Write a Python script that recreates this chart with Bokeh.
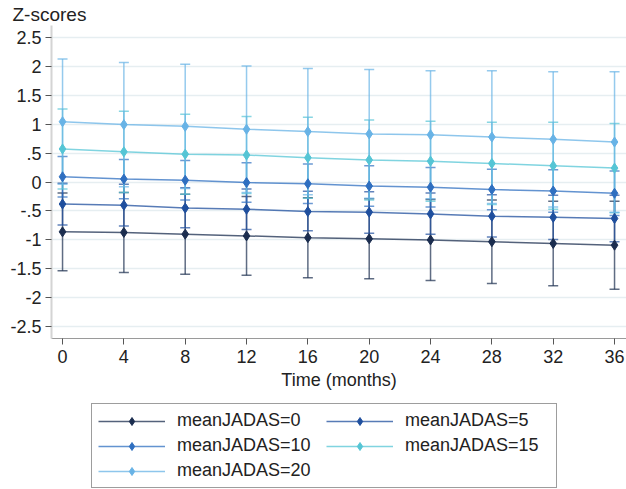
from bokeh.plotting import figure
from bokeh.layouts import column
from bokeh.models import (ColumnDataSource, Whisker, TeeHead, Legend, LegendItem,
                          FixedTicker, Range1d, CustomJSTickFormatter)
from bokeh.embed import file_html
from bokeh.resources import INLINE

months = [0, 4, 8, 12, 16, 20, 24, 28, 32, 36]
groups = ["meanJADAS=0", "meanJADAS=5", "meanJADAS=10", "meanJADAS=15", "meanJADAS=20"]

mean_0 = [-0.86, -0.87, -0.90, -0.93, -0.96, -0.98, -1.00, -1.03, -1.06, -1.09]
lower_0 = [-1.53, -1.56, -1.59, -1.61, -1.65, -1.67, -1.70, -1.75, -1.79, -1.85]
upper_0 = [-0.19, -0.18, -0.21, -0.25, -0.27, -0.29, -0.30, -0.31, -0.33, -0.33]

mean_5 = [-0.38, -0.40, -0.45, -0.47, -0.51, -0.52, -0.55, -0.59, -0.61, -0.63]
lower_5 = [-0.74, -0.76, -0.79, -0.82, -0.84, -0.885, -0.90, -0.95, -0.99, -1.03]
upper_5 = [-0.02, -0.04, -0.10, -0.12, -0.16, -0.17, -0.19, -0.22, -0.23, -0.23]

mean_10 = [0.09, 0.05, 0.03, -0.01, -0.03, -0.07, -0.09, -0.13, -0.155, -0.195]
lower_10 = [-0.26, -0.29, -0.31, -0.35, -0.37, -0.42, -0.43, -0.48, -0.52, -0.58]
upper_10 = [0.44, 0.39, 0.37, 0.33, 0.31, 0.28, 0.25, 0.22, 0.21, 0.19]

mean_15 = [0.57, 0.52, 0.48, 0.465, 0.42, 0.38, 0.36, 0.32, 0.28, 0.24]
lower_15 = [-0.12, -0.18, -0.21, -0.20, -0.28, -0.31, -0.33, -0.39, -0.47, -0.53]
upper_15 = [1.26, 1.22, 1.17, 1.13, 1.115, 1.07, 1.05, 1.03, 1.03, 1.01]

mean_20 = [1.04, 0.99, 0.96, 0.91, 0.87, 0.83, 0.815, 0.776, 0.736, 0.69]
lower_20 = [-0.04, -0.08, -0.11, -0.18, -0.22, -0.28, -0.29, -0.37, -0.43, -0.52]
upper_20 = [2.12, 2.06, 2.03, 2.00, 1.96, 1.94, 1.92, 1.92, 1.90, 1.90]

y_ticks = [2.5, 2, 1.5, 1, 0.5, 0, -0.5, -1, -1.5, -2, -2.5]

means = [mean_0, mean_5, mean_10, mean_15, mean_20]
lowers = [lower_0, lower_5, lower_10, lower_15, lower_20]
uppers = [upper_0, upper_5, upper_10, upper_15, upper_20]
colors = ["#1b2d4f", "#1f4f9e", "#2f6fc0", "#55c5d5", "#68b3e6"]

FONT = "Liberation Sans"

p = figure(width=626, height=395, output_backend="svg", toolbar_location=None,
           x_range=Range1d(-0.72, 36.78), y_range=Range1d(-2.7, 2.7),
           min_border_left=51, min_border_right=0, min_border_top=0, min_border_bottom=57)
p.outline_line_color = None
p.background_fill_color = "white"
p.border_fill_color = "white"

p.title.text = "Z-scores"
p.title.text_font = FONT
p.title.text_font_size = "19px"
p.title.text_font_style = "normal"
p.title.text_color = "#222222"
p.title.align = "left"
p.title.offset = -39
p.title.standoff = 2

p.xgrid.grid_line_color = None
p.ygrid.grid_line_color = "#e6eef1"
p.ygrid.grid_line_width = 1.5
p.ygrid.ticker = FixedTicker(ticks=y_ticks)

p.xaxis.ticker = FixedTicker(ticks=months)
p.xaxis.axis_label = "Time (months)"
p.xaxis.axis_label_text_font = FONT
p.xaxis.axis_label_text_font_size = "18px"
p.xaxis.axis_label_text_font_style = "normal"
p.xaxis.axis_label_text_color = "#222222"
p.xaxis.axis_label_standoff = 4
p.xaxis.major_label_text_font = FONT
p.xaxis.major_label_text_font_size = "18px"
p.xaxis.major_label_text_color = "#222222"
p.xaxis.major_label_standoff = 5
p.xaxis.axis_line_color = "#9a9a9a"
p.xaxis.major_tick_line_color = "#555555"
p.xaxis.major_tick_out = 6
p.xaxis.major_tick_in = 0
p.xaxis.minor_tick_line_color = None

p.yaxis.ticker = FixedTicker(ticks=y_ticks)
p.yaxis.formatter = CustomJSTickFormatter(code="return tick.toString().replace(/^(-?)0\\./, '$1.');")
p.yaxis.major_label_text_font = FONT
p.yaxis.major_label_text_font_size = "18px"
p.yaxis.major_label_text_color = "#222222"
p.yaxis.major_label_standoff = 4
p.yaxis.axis_line_color = "#d4d4d4"
p.yaxis.axis_line_width = 2
p.yaxis.major_tick_line_color = "#555555"
p.yaxis.major_tick_out = 6
p.yaxis.major_tick_in = 0
p.yaxis.minor_tick_line_color = None

# legend strip: same series drawn off-screen so only their legend glyphs show
lg = figure(width=626, height=94, output_backend="svg", toolbar_location=None,
            x_range=Range1d(1000, 1001), y_range=Range1d(1000, 1001),
            x_axis_type=None, y_axis_type=None,
            min_border_left=0, min_border_right=0, min_border_top=0, min_border_bottom=0)
lg.outline_line_color = None
lg.grid.grid_line_color = None
lg.background_fill_color = "white"
lg.border_fill_color = "white"

items = []
for g, m, lo, up, c in zip(groups, means, lowers, uppers, colors):
    src = ColumnDataSource(dict(x=months, y=m, lower=lo, upper=up))
    w = Whisker(base="x", upper="upper", lower="lower", source=src,
                line_color=c, line_alpha=0.7, line_width=1.5,
                upper_head=TeeHead(size=10, line_color=c, line_alpha=0.7, line_width=1.5),
                lower_head=TeeHead(size=10, line_color=c, line_alpha=0.7, line_width=1.5))
    p.add_layout(w)
    p.line("x", "y", source=src, line_color=c, line_alpha=0.75, line_width=1.5)
    p.scatter("x", "y", source=src, marker="diamond", size=10, fill_color=c, line_color=c)

    ln = lg.line("x", "y", source=src, line_color=c, line_alpha=0.75, line_width=1.5)
    sc = lg.scatter("x", "y", source=src, marker="diamond", size=8, fill_color=c, line_color=c)
    items.append(LegendItem(label=g, renderers=[ln, sc]))

legend = Legend(items=items, ncols=2, orientation="horizontal", location=(40, 1),
                glyph_width=67, glyph_height=20, label_width=145, label_height=20,
                label_standoff=12, spacing=4, padding=6, margin=0,
                label_text_font=FONT, label_text_font_size="18px",
                label_text_color="#222222",
                border_line_color="#3c3c3c", border_line_width=1,
                background_fill_color="white")
lg.add_layout(legend, "center")

layout = column(p, lg, spacing=0)
open("out.html", "w").write(file_html(layout, INLINE))
